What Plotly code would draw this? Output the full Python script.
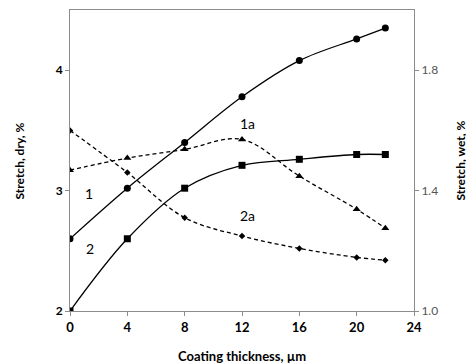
import plotly.graph_objects as go

thickness = [0, 4, 8, 12, 16, 20, 22]
dry_1 = [2.60, 3.02, 3.40, 3.78, 4.08, 4.26, 4.35]
dry_2 = [2.00, 2.60, 3.02, 3.21, 3.26, 3.30, 3.30]
wet_1a = [1.468, 1.508, 1.537, 1.570, 1.448, 1.338, 1.275]
wet_2a = [1.600, 1.460, 1.310, 1.249, 1.208, 1.178, 1.169]

x_ticks = [0, 4, 8, 12, 16, 20, 24]
left_ticks = [2, 3, 4]
right_ticks = [1.0, 1.4, 1.8]

font_family = "Lato, 'Open Sans', sans-serif"
line_col = "black"
axis_col = "#8c8c8c"
dash_style = "4px,3px"

fig = go.Figure()
fig.add_trace(go.Scatter(x=thickness, y=dry_1, mode="lines+markers",
                         line=dict(color=line_col, width=1.3, shape="spline"),
                         marker=dict(symbol="circle", size=7, color=line_col),
                         name="1"))
fig.add_trace(go.Scatter(x=thickness, y=dry_2, mode="lines+markers",
                         line=dict(color=line_col, width=1.3, shape="spline"),
                         marker=dict(symbol="square", size=7, color=line_col),
                         name="2"))
fig.add_trace(go.Scatter(x=thickness, y=wet_1a, mode="lines+markers", yaxis="y2",
                         line=dict(color=line_col, width=1.3, shape="spline", dash=dash_style),
                         marker=dict(symbol="triangle-up", size=7, color=line_col),
                         name="1a"))
fig.add_trace(go.Scatter(x=thickness, y=wet_2a, mode="lines+markers", yaxis="y2",
                         line=dict(color=line_col, width=1.3, shape="spline", dash=dash_style),
                         marker=dict(symbol="diamond", size=5, color=line_col),
                         name="2a"))

ann_font = dict(family=font_family, size=14, color="black")
title_font = dict(family=font_family, size=12, color="black")
annotations = [
    dict(x=1.3, y=2.98, xref="x", yref="y", text="1", showarrow=False, font=ann_font),
    dict(x=1.4, y=2.52, xref="x", yref="y", text="2", showarrow=False, font=ann_font),
    dict(x=12.35, y=3.56, xref="x", yref="y", text="1a", showarrow=False, font=ann_font),
    dict(x=12.35, y=2.79, xref="x", yref="y", text="2a", showarrow=False, font=ann_font),
    dict(x=-51 / 344, y=0.5, xref="paper", yref="paper", text="<b>Stretch, dry, %</b>",
         textangle=-90, showarrow=False, font=title_font, xanchor="center", yanchor="middle"),
    dict(x=1 + 46 / 344, y=0.5, xref="paper", yref="paper", text="<b>Stretch, wet, %</b>",
         textangle=-90, showarrow=False, font=title_font, xanchor="center", yanchor="middle"),
    dict(x=0.5, y=-45 / 301, xref="paper", yref="paper", text="<b>Coating thickness, µm</b>",
         showarrow=False, font=dict(family=font_family, size=13, color="black"),
         xanchor="center", yanchor="middle"),
]

# page body has an 8px margin: figure is sized/offset so the plot area lands
# at x 70..414, y 10..311 in the 474x364 window
fig.update_layout(
    width=466, height=356,
    margin=dict(l=62, r=60, t=2, b=53),
    paper_bgcolor="white", plot_bgcolor="white",
    showlegend=False,
    font=dict(family=font_family, size=12, color="black"),
    annotations=annotations,
    xaxis=dict(range=[0, 24], tickvals=x_ticks, showgrid=False, zeroline=False,
               showline=True, linecolor=axis_col, linewidth=1, mirror=True,
               ticks="outside", tickcolor=axis_col, ticklen=4, automargin=False,
               tickfont=dict(size=13, color="black", family=font_family, weight="bold")),
    yaxis=dict(range=[2, 4.5], tickvals=left_ticks, showgrid=False, zeroline=False,
               showline=True, linecolor=axis_col, linewidth=1, automargin=False,
               ticks="outside", tickcolor=axis_col, ticklen=4,
               tickfont=dict(size=12, color="black", family=font_family, weight="bold")),
    yaxis2=dict(range=[1.0, 2.0], tickvals=right_ticks, tickformat=".1f",
                overlaying="y", side="right", showgrid=False, zeroline=False,
                showline=True, linecolor=axis_col, linewidth=1, automargin=False,
                ticks="outside", tickcolor=axis_col, ticklen=4,
                tickfont=dict(size=12, color="#555555", family=font_family)),
)

fig.write_html("out.html")
